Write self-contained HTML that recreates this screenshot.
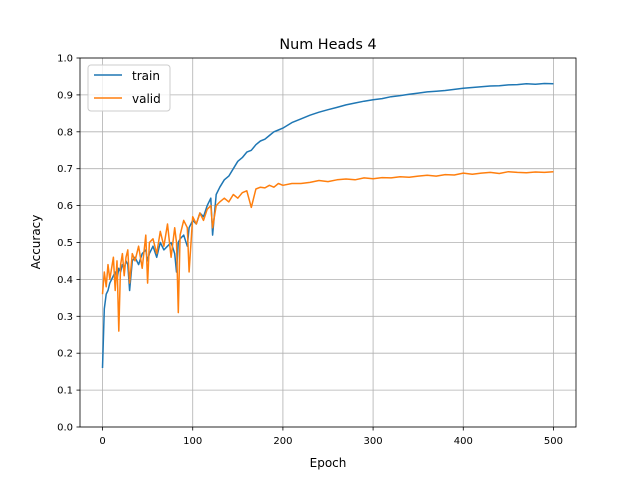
<!DOCTYPE html>
<html><head><meta charset="utf-8"><style>
body{margin:0;background:#fff}
svg{display:block;font-family:"DejaVu Sans","Liberation Sans",sans-serif}
</style></head><body>
<svg id="chart" width="640" height="480">
<rect width="640" height="480" fill="#fff"/>
<g id="grid"></g><g id="series"></g><g id="axes"></g>
<text x="328" y="49" text-anchor="middle" font-size="14.4">Num Heads 4</text>
<text x="328" y="467" text-anchor="middle" font-size="12">Epoch</text>
<text x="40" y="242" text-anchor="middle" font-size="12" transform="rotate(-90 40 242)">Accuracy</text>
<g>
<rect x="88" y="65" width="82" height="46" rx="3" fill="#fff" fill-opacity="0.8" stroke="#ccc"/>
<line x1="94" y1="75" x2="122" y2="75" stroke="#1f77b4" stroke-width="1.5"/>
<text x="132" y="80" font-size="12">train</text>
<line x1="94" y1="98" x2="122" y2="98" stroke="#ff7f0e" stroke-width="1.5"/>
<text x="132" y="103" font-size="12">valid</text>
</g>
</svg>
<script>
const epochs=[0,2,4,6,8,10,12,14,16,18,20,22,24,26,28,30,33,36,40,44,48,50,52,56,60,64,68,72,76,80,82,84,86,90,94,96,100,104,108,112,116,120,122,126,130,135,140,145,150,155,160,165,170,175,180,185,190,195,200,210,220,230,240,250,260,270,280,290,300,310,320,330,340,350,360,370,380,390,400,410,420,430,440,450,460,470,480,490,500];
const train=[0.16,0.32,0.36,0.37,0.39,0.40,0.41,0.42,0.40,0.43,0.42,0.44,0.43,0.45,0.44,0.37,0.45,0.46,0.44,0.47,0.48,0.45,0.47,0.49,0.46,0.50,0.48,0.49,0.50,0.47,0.42,0.50,0.51,0.52,0.49,0.54,0.56,0.55,0.58,0.57,0.60,0.62,0.52,0.63,0.65,0.67,0.68,0.70,0.72,0.73,0.745,0.75,0.765,0.775,0.78,0.79,0.80,0.805,0.81,0.825,0.835,0.845,0.853,0.86,0.866,0.873,0.878,0.883,0.887,0.89,0.895,0.898,0.902,0.905,0.908,0.91,0.912,0.915,0.918,0.92,0.922,0.924,0.925,0.927,0.928,0.93,0.929,0.931,0.93];
const valid=[0.36,0.42,0.38,0.44,0.40,0.43,0.46,0.37,0.45,0.26,0.44,0.47,0.41,0.46,0.48,0.39,0.47,0.45,0.49,0.43,0.52,0.39,0.50,0.51,0.47,0.53,0.49,0.55,0.46,0.54,0.50,0.31,0.52,0.56,0.54,0.42,0.57,0.55,0.58,0.56,0.59,0.60,0.54,0.60,0.61,0.62,0.61,0.63,0.62,0.635,0.64,0.595,0.645,0.65,0.648,0.655,0.65,0.66,0.655,0.66,0.66,0.663,0.668,0.665,0.67,0.672,0.67,0.675,0.673,0.676,0.675,0.678,0.677,0.68,0.682,0.68,0.684,0.683,0.688,0.685,0.688,0.69,0.687,0.692,0.69,0.689,0.691,0.69,0.692];
const xTicks=[0,100,200,300,400,500];
const yTicks=[0,0.1,0.2,0.3,0.4,0.5,0.6,0.7,0.8,0.9,1.0];
const L=80,R=576,T=58,B=427;
const xs=v=>L+(v+25)/550*(R-L);
const ys=v=>B-v*(B-T);
const NS='http://www.w3.org/2000/svg';
function mk(tag,attrs,parent){const e=document.createElementNS(NS,tag);for(const k in attrs)e.setAttribute(k,attrs[k]);parent.appendChild(e);return e;}
const grid=document.getElementById('grid'),axes=document.getElementById('axes'),ser=document.getElementById('series');
xTicks.forEach(t=>{const x=xs(t);
 const g=mk('line',{x1:x,x2:x,y1:T,y2:B,stroke:'#b0b0b0','stroke-width':0.8},grid);
 
 
 mk('line',{x1:x,x2:x,y1:B,y2:B+3.5,stroke:'#000','stroke-width':0.8},axes);
 const tx=mk('text',{x:x,y:B+17,'text-anchor':'middle','font-size':10},axes);tx.textContent=t;
 
 
});
yTicks.forEach(t=>{const y=ys(t);
 const g=mk('line',{x1:L,x2:R,y1:y,y2:y,stroke:'#b0b0b0','stroke-width':0.8},grid);
 
 
 mk('line',{x1:L-3.5,x2:L,y1:y,y2:y,stroke:'#000','stroke-width':0.8},axes);
 const tx=mk('text',{x:L-7,y:y+3.5,'text-anchor':'end','font-size':10},axes);tx.textContent=t.toFixed(1);
 
 
});
const frame=mk('rect',{x:L,y:T,width:R-L,height:B-T,fill:'none',stroke:'#000','stroke-width':0.8},axes);


function line(vals,color,name){
 const d=vals.map((v,i)=>(i?'L':'M')+xs(epochs[i]).toFixed(1)+','+ys(v).toFixed(1)).join('');
 const p=mk('path',{d:d,fill:'none',stroke:color,'stroke-width':1.5,'stroke-linejoin':'round'},ser);
 
 
}
line(train,'#1f77b4','train-line');
line(valid,'#ff7f0e','valid-line');
</script>
</body></html>
